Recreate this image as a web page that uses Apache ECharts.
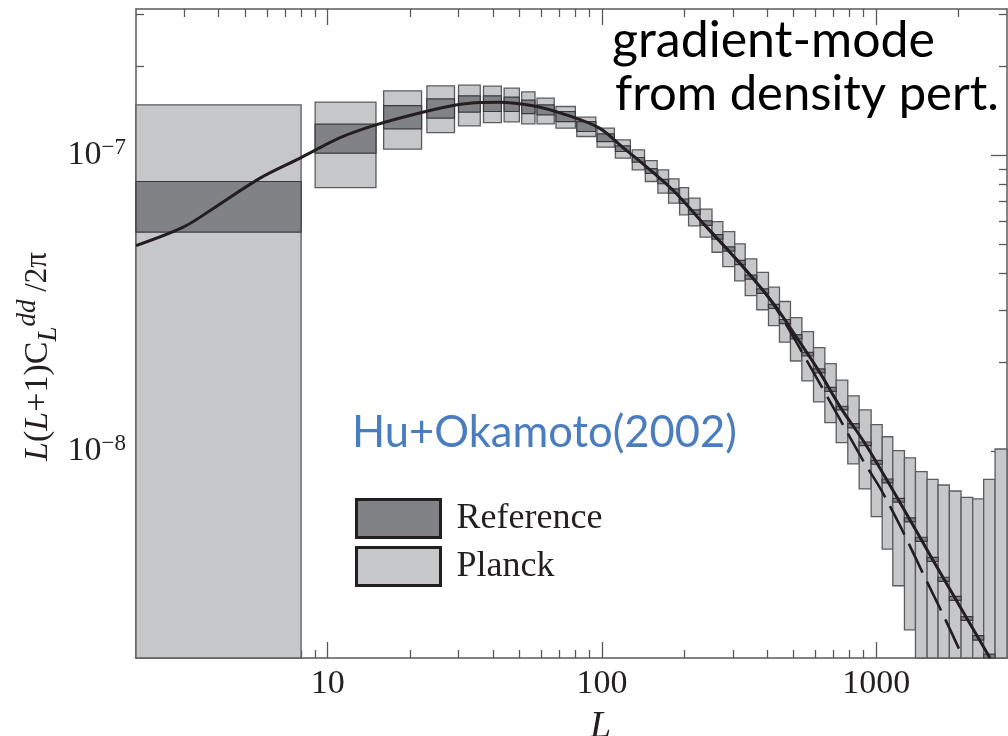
<!DOCTYPE html>
<html>
<head>
<meta charset="utf-8">
<script src="https://cdn.jsdelivr.net/npm/echarts@6/dist/echarts.min.js"></script>
<style>
  html, body { margin: 0; padding: 0; background: #fff; }
  #chart { width: 1008px; height: 736px; }
</style>
</head>
<body>
<div id="chart"></div>
<script>
// bin edges in L
var binLmin = [2, 9, 16, 23, 30, 37, 44, 51, 58, 68, 81, 96, 112, 129, 144, 160, 175, 192, 207, 228, 252, 276, 305, 333, 367, 405, 444,
    487, 536, 591, 650, 715, 788, 867, 959, 1052, 1150, 1268, 1391, 1534, 1682, 1849, 2040, 2249, 2466, 2714];
var binLmax = [8, 15, 22, 29, 36, 43, 50, 57, 67, 80, 95, 111, 127, 143, 159, 175, 191, 207, 228, 252, 276, 305, 333, 367, 405, 444, 487,
    536, 591, 650, 715, 788, 867, 959, 1052, 1150, 1268, 1391, 1534, 1682, 1849, 2040, 2249, 2466, 2714, 3000];

// Planck error boxes
var planckHigh = [1.484e-7, 1.516e-7, 1.655e-7, 1.721e-7, 1.730e-7, 1.717e-7, 1.690e-7, 1.643e-7, 1.564e-7, 1.465e-7, 1.349e-7, 1.238e-7, 1.130e-7,
    1.045e-7, 9.62e-8, 8.95e-8, 8.34e-8, 7.79e-8, 7.18e-8, 6.59e-8, 5.98e-8, 5.53e-8, 5.03e-8, 4.47e-8, 4.03e-8, 3.59e-8, 3.21e-8,
    2.83e-8, 2.54e-8, 2.24e-8, 1.98e-8, 1.74e-8, 1.54e-8, 1.38e-8, 1.23e-8, 1.12e-8, 1.005e-8, 9.5e-9, 8.53e-9, 8.04e-9, 7.69e-9,
    7.34e-9, 6.99e-9, 6.90e-9, 8.04e-9, 1.018e-8];
var planckLow = [2e-9, 7.79e-8, 1.051e-7, 1.196e-7, 1.260e-7, 1.293e-7, 1.300e-7, 1.280e-7, 1.280e-7, 1.238e-7, 1.160e-7, 1.068e-7, 9.80e-8,
    8.95e-8, 8.17e-8, 7.46e-8, 6.90e-8, 6.30e-8, 5.78e-8, 5.30e-8, 4.71e-8, 4.21e-8, 3.77e-8, 3.36e-8, 3.01e-8, 2.66e-8, 2.34e-8,
    2.02e-8, 1.73e-8, 1.47e-8, 1.25e-8, 1.07e-8, 9.06e-9, 7.46e-9, 6.01e-9, 4.67e-9, 3.51e-9, 2.49e-9, 2e-9, 2e-9, 2e-9,
    2e-9, 2e-9, 2e-9, 2e-9, 2e-9];

// reference error boxes (last bin has none)
var refHigh = [8.17e-8, 1.277e-7, 1.476e-7, 1.555e-7, 1.592e-7, 1.592e-7, 1.576e-7, 1.540e-7, 1.484e-7, 1.409e-7, 1.303e-7, 1.184e-7, 1.079e-7,
    9.85e-8, 9.03e-8, 8.31e-8, 7.72e-8, 7.13e-8, 6.55e-8, 6.01e-8, 5.40e-8, 4.91e-8, 4.42e-8, 3.94e-8, 3.54e-8, 3.14e-8, 2.79e-8,
    2.48e-8, 2.16e-8, 1.90e-8, 1.645e-8, 1.42e-8, 1.24e-8, 1.075e-8, 9.32e-9, 8.06e-9, 6.93e-9, 5.95e-9, 5.12e-9, 4.38e-9, 3.75e-9,
    3.23e-9, 2.76e-9, 2.38e-9, 2.06e-9];
var refLow = [5.51e-8, 1.019e-7, 1.231e-7, 1.338e-7, 1.402e-7, 1.409e-7, 1.409e-7, 1.387e-7, 1.373e-7, 1.303e-7, 1.206e-7, 1.115e-7, 1.032e-7,
    9.50e-8, 8.71e-8, 8.03e-8, 7.46e-8, 6.89e-8, 6.33e-8, 5.81e-8, 5.22e-8, 4.75e-8, 4.28e-8, 3.82e-8, 3.42e-8, 3.04e-8, 2.70e-8,
    2.40e-8, 2.10e-8, 1.84e-8, 1.595e-8, 1.38e-8, 1.20e-8, 1.045e-8, 9.04e-9, 7.82e-9, 6.73e-9, 5.77e-9, 4.96e-9, 4.24e-9, 3.63e-9,
    3.13e-9, 2.68e-9, 2.30e-9, 2.00e-9];

// theory curves
var solidL = [2, 3, 4, 5.67, 7.93, 11.1, 15, 22, 29, 36, 42, 56, 74, 98, 120, 137, 181, 240, 318, 421, 511, 618, 744, 912, 1208, 1606, 2143, 2600];
var solidV = [4.96e-8, 5.75e-8, 6.81e-8, 8.39e-8, 9.80e-8, 1.15e-7, 1.27e-7, 1.398e-7, 1.48e-7, 1.51e-7, 1.515e-7, 1.473e-7, 1.373e-7, 1.238e-7,
    1.06e-7, 9.6e-8, 7.66e-8, 5.75e-8, 4.33e-8, 3.17e-8, 2.44e-8, 1.87e-8, 1.40e-8, 1.06e-8, 6.83e-9, 4.31e-9, 2.72e-9, 2.0e-9];
var dashL = [240, 318, 421, 611, 894, 1043, 1244, 1478, 1748, 2068];
var dashV = [5.75e-8, 4.33e-8, 3.15e-8, 1.75e-8, 9.34e-9, 7.40e-9, 5.42e-9, 3.88e-9, 2.82e-9, 2.02e-9];

// ticks
var xMajor = [10, 100, 1000];
var xMinor = [3, 4, 5, 6, 7, 8, 9, 20, 30, 40, 50, 60, 70, 80, 90, 200, 300, 400, 500, 600, 700, 800, 900, 2000];
var yMajor = [1e-8, 1e-7];
var yMinor = [3e-9, 4e-9, 5e-9, 6e-9, 7e-9, 8e-9, 9e-9, 2e-8, 3e-8, 4e-8, 5e-8, 6e-8, 7e-8, 8e-8, 9e-8, 2e-7, 3e-7];

var ink = '#231f20';
var frame = '#58595b';
var serif = 'Liberation Serif';

var chart = echarts.init(document.getElementById('chart'));

var planckData = binLmin.map(function (l, i) { return [l, binLmax[i], planckLow[i], planckHigh[i]]; });
var refData = refHigh.map(function (h, i) { return [binLmin[i], binLmax[i], refLow[i], h]; });

function boxRenderer(fill, stroke, lw) {
    return function (params, api) {
        var p0 = api.coord([api.value(0), api.value(3)]);
        var p1 = api.coord([api.value(1), api.value(2)]);
        var shape = echarts.graphic.clipRectByRect({
            x: p0[0], y: p0[1], width: p1[0] - p0[0], height: p1[1] - p0[1]
        }, params.coordSys);
        if (!shape) return;
        return { type: 'rect', shape: shape, style: { fill: fill, stroke: stroke, lineWidth: lw } };
    };
}

function xAxisOf(pos, major) {
    return {
        type: 'log', logBase: 10, min: 2, max: 3000, position: pos,
        axisLine: { show: major, onZero: false, lineStyle: { color: frame, width: 1.5 } },
        axisTick: { show: true, inside: true, length: major ? 16 : 8, customValues: major ? xMajor : xMinor,
            lineStyle: { color: frame, width: 1.3 } },
        axisLabel: { show: major && pos === 'bottom', customValues: xMajor, margin: 9,
            fontFamily: serif, fontSize: 34, lineHeight: 34, color: ink,
            formatter: function (v) { return String(Math.round(v)); } },
        splitLine: { show: false }
    };
}

function yAxisOf(pos, major) {
    return {
        type: 'log', logBase: 10, min: 2e-9, max: 3.13e-7, position: pos,
        axisLine: { show: major, onZero: false, lineStyle: { color: frame, width: 1.5 } },
        axisTick: { show: true, inside: true, length: major ? 16 : 8, customValues: major ? yMajor : yMinor,
            lineStyle: { color: frame, width: 1.3 } },
        axisLabel: { show: major && pos === 'left', customValues: yMajor, margin: 10,
            fontFamily: serif, fontSize: 34, color: ink, lineHeight: 38,
            formatter: function (v) { return '10{sup|−' + Math.round(-Math.log10(v)) + '}'; },
            rich: { sup: { fontFamily: serif, fontSize: 23, color: ink, verticalAlign: 'top', lineHeight: 23 } } },
        splitLine: { show: false }
    };
}

var xAxes = [xAxisOf('bottom', true), xAxisOf('bottom', false), xAxisOf('top', true), xAxisOf('top', false)];
xAxes[0].name = 'L';
xAxes[0].nameLocation = 'middle';
xAxes[0].nameGap = 50;
xAxes[0].nameMoveOverlap = false;
xAxes[0].nameTextStyle = { fontFamily: serif, fontStyle: 'italic', fontSize: 38, lineHeight: 38, color: ink, padding: [0, 0, 0, 58] };

var yAxes = [yAxisOf('left', true), yAxisOf('left', false), yAxisOf('right', true), yAxisOf('right', false)];
yAxes[0].name = '{i|L}({i|L}+1)C{sub|L}{sup|dd}{s| /2π}';
yAxes[0].nameLocation = 'middle';
yAxes[0].nameGap = 74;
yAxes[0].nameRotate = 90;
yAxes[0].nameMoveOverlap = false;
yAxes[0].nameTextStyle = {
    fontFamily: serif, fontSize: 34, color: ink, lineHeight: 48, padding: [0, 46, 0, 0],
    rich: {
        i: { fontFamily: serif, fontStyle: 'italic', fontSize: 34, color: ink },
        sub: { fontFamily: serif, fontStyle: 'italic', fontSize: 27, color: ink, verticalAlign: 'bottom', lineHeight: 27 },
        sup: { fontFamily: serif, fontStyle: 'italic', fontSize: 27, color: ink, verticalAlign: 'top', lineHeight: 27 },
        s: { fontFamily: serif, fontSize: 31, color: ink }
    }
};

var option = {
    backgroundColor: '#fff',
    animation: false,
    grid: { left: 136, right: 1, top: 9, bottom: 78, outerBoundsMode: 'none', containLabel: false },
    xAxis: xAxes,
    yAxis: yAxes,
    legend: {
        orient: 'vertical', left: 355, top: 498, padding: 0, itemWidth: 84, itemHeight: 38, itemGap: 7,
        textStyle: { fontFamily: serif, fontSize: 36, color: ink, padding: [0, 0, 0, 11] },
        data: [
            { name: 'Reference', icon: 'rect', itemStyle: { color: '#808285', borderColor: ink, borderWidth: 3 } },
            { name: 'Planck', icon: 'rect', itemStyle: { color: '#c6c7c9', borderColor: ink, borderWidth: 3 } }
        ]
    },
    graphic: [
        { type: 'text', left: 612, top: 16, style: { text: 'gradient-mode', font: '50px Lato', fill: '#000' } },
        { type: 'text', left: 615, top: 70, style: { text: 'from density pert.', font: '49px Lato', fill: '#000' } },
        { type: 'text', left: 352, top: 411, style: { text: 'Hu+Okamoto(2002)', font: '43.5px Lato', fill: '#4a7dbf' } }
    ],
    series: [
        {
            name: 'Planck', type: 'custom', xAxisIndex: 0, yAxisIndex: 0,
            renderItem: boxRenderer('#c6c7c9', '#5b5c5e', 1.3),
            encode: { x: [0, 1], y: [2, 3] },
            itemStyle: { color: '#c6c7c9' },
            data: planckData, z: 2
        },
        {
            name: 'Reference', type: 'custom', xAxisIndex: 0, yAxisIndex: 0,
            renderItem: boxRenderer('#808285', '#3a3a3c', 1.2),
            encode: { x: [0, 1], y: [2, 3] },
            itemStyle: { color: '#808285' },
            data: refData, z: 3
        },
        {
            name: 'dashed', type: 'line', xAxisIndex: 0, yAxisIndex: 0, showSymbol: false, smooth: 0.3,
            lineStyle: { color: ink, width: 2.6, type: [32, 10] },
            data: dashL.map(function (l, i) { return [l, dashV[i]]; }), z: 4
        },
        {
            name: 'solid', type: 'line', xAxisIndex: 0, yAxisIndex: 0, showSymbol: false, smooth: 0.3,
            lineStyle: { color: ink, width: 3 },
            data: solidL.map(function (l, i) { return [l, solidV[i]]; }), z: 5
        }
    ]
};

chart.setOption(option);
</script>
</body>
</html>
